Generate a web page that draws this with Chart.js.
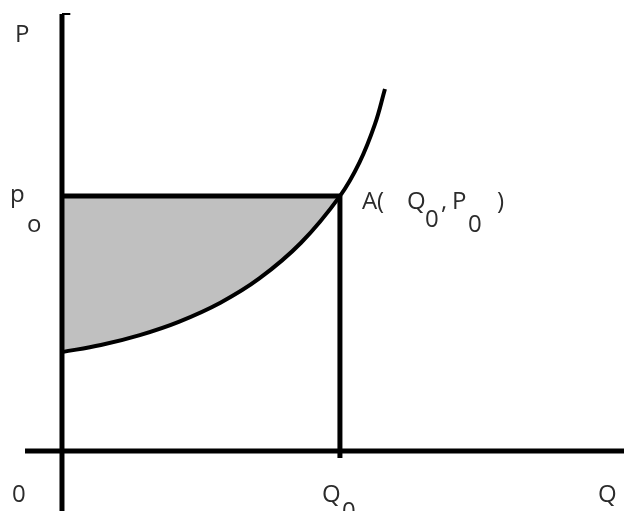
<!DOCTYPE html>
<html>
<head>
<meta charset="utf-8">
<script src="https://cdn.jsdelivr.net/npm/chart.js@4.4.1/dist/chart.umd.min.js"></script>
<style>
  body { margin: 0; background: #fff; }
  #wrap { width: 624px; height: 511px; }
</style>
</head>
<body>
<div id="wrap"><canvas id="myChart"></canvas></div>
<script>
// curva de oferta (Q0 = 10, p0 = 10)
const curveQ = [0, 1.4, 2.8, 4.2, 5.7, 7.1, 8.6, 10, 10.7, 11.26, 11.62];
const curveP = [3.88, 4.16, 4.55, 5.07, 5.82, 6.77, 8.17, 10, 11.31, 12.82, 14.2];
const q0 = 10;
const p0 = 10;
// extension de los ejes
const qRange = [-2.23, 20.22];
const pRange = [-2.35, 17.69];
const axisTopP = 17.14;
const axisLeftQ = -1.33;
const dropBottomP = -0.27;

const pts = (qs, ps) => qs.map((q, i) => ({ x: q, y: ps[i] }));
const upToQ0 = curveQ.filter(q => q <= q0);

const labelPlugin = {
  id: "labels",
  afterDatasetsDraw(chart) {
    const { ctx, scales: { x, y } } = chart;
    const ox = x.getPixelForValue(0), oy = y.getPixelForValue(0);
    const qx = x.getPixelForValue(q0), py = y.getPixelForValue(p0);
    const top = y.getPixelForValue(axisTopP);
    ctx.save();
    ctx.fillStyle = "#2b2b2b";
    ctx.font = "24px 'Open Sans'";
    ctx.textBaseline = "alphabetic";
    const put = (t, a, b) => ctx.fillText(t, a, b);
    put("P", ox - 47, top + 28);
    put("p", ox - 52, py + 6);
    put("o", ox - 35, py + 36);
    put("A(", qx + 22, py + 13);
    put("Q", qx + 67, py + 13);
    put("0", qx + 85, py + 31);
    put(",", qx + 101, py + 13);
    put("P", qx + 112, py + 13);
    put("0", qx + 128, py + 36);
    put(")", qx + 157, py + 13);
    put("0", ox - 50, oy + 51);
    put("Q", qx - 18, oy + 51);
    put("0", qx + 2, oy + 68);
    put("Q", chart.chartArea.right - 26, oy + 51);
    ctx.restore();
  }
};

const line = (data, width) => ({
  data, showLine: true, borderColor: "#000", borderWidth: width,
  pointRadius: 0, fill: false, tension: 0
});

new Chart(document.getElementById("myChart"), {
  type: "scatter",
  data: {
    datasets: [
      line([{ x: 0, y: pRange[0] }, { x: 0, y: axisTopP }], 5),
      line([{ x: 0, y: axisTopP }, { x: 0.3, y: axisTopP }], 2),
      line([{ x: axisLeftQ, y: 0 }, { x: qRange[1], y: 0 }], 5),
      line([{ x: 0, y: p0 }, { x: q0, y: p0 }], 5),
      line([{ x: q0, y: p0 }, { x: q0, y: dropBottomP }], 5),
      { ...line(pts(curveQ, curveP), 4), tension: 0.4 },
      {
        data: pts(upToQ0, curveP.slice(0, upToQ0.length)),
        showLine: true, borderWidth: 0, pointRadius: 0,
        backgroundColor: "#c0c0c0", fill: { value: p0 },
        tension: 0.4
      }
    ]
  },
  options: {
    responsive: true,
    maintainAspectRatio: false,
    animation: false,
    layout: { padding: 0 },
    scales: {
      x: { type: "linear", display: false, min: qRange[0], max: qRange[1] },
      y: { type: "linear", display: false, min: pRange[0], max: pRange[1] }
    },
    plugins: { legend: { display: false }, tooltip: { enabled: false } }
  },
  plugins: [labelPlugin]
});
</script>
</body>
</html>
